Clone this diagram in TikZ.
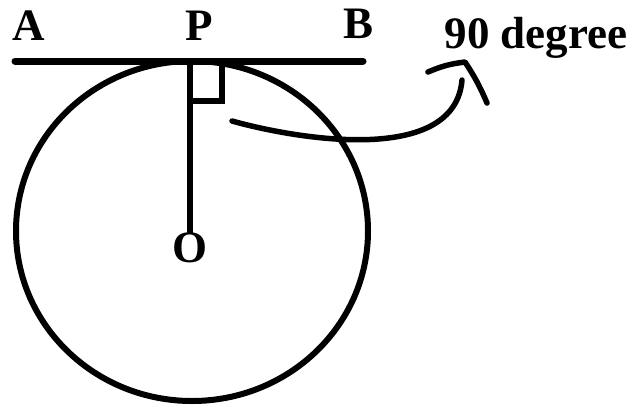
\documentclass[tikz,border=0pt]{standalone}
\usepackage{fontspec}
\setmainfont{Liberation Serif}
\usetikzlibrary{calc}

\begin{document}
\begin{tikzpicture}[
    x = 1pt, y = -1pt,
    lbl/.style   = {font=\fontsize{45}{50}\selectfont\bfseries,
                    inner sep=0pt, anchor=base},
    heavy/.style = {line width=7pt, line cap=round},
    rim/.style   = {line width=6pt},
    mark90/.style = {line width=5.5pt, line cap=round, line join=round},
  ]
  \useasboundingbox (0,0) rectangle (634,407);

  %% Circle with centre O
  \draw[rim] (192,231) ellipse [x radius=176pt, y radius=170pt];

  %% Tangent AB touching at P
  \coordinate (tA) at (15,61);
  \coordinate (tB) at (363,61);
  \coordinate (P)  at (190,61);
  \coordinate (O)  at (190,233);
  \draw[heavy] (tA) -- (tB);

  %% Radius OP and the right angle
  \draw[line width=6.5pt] (P) -- (O);
  \draw[line width=5.5pt] ($(P)+(32,0)$) -- ($(P)+(32,40)$) -- ($(P)+(0,40)$);

  %% Labels
  \node[lbl] (labA) at (29,40)  {A};
  \node[lbl] (labP) at (199,40) {P};
  \node[lbl] (labB) at (359,38) {B};
  \node[lbl] (labO) at (190,262) {O};
  \node[lbl] (deg)  at (536,48) {90 degree};

  %% Curved pointer to the label
  \coordinate (cs)  at (232,121);
  \coordinate (ce)  at (462,80);
  \coordinate (hl)  at (428,72);
  \coordinate (hp)  at (465,62);
  \coordinate (hr)  at (487,103);
  \draw[mark90] (cs) .. controls (300,140) and (455,165) .. (ce);
  \draw[mark90] (hl) to[bend left=8] (hp) to[bend left=5] (hr);

\end{tikzpicture}
\end{document}
